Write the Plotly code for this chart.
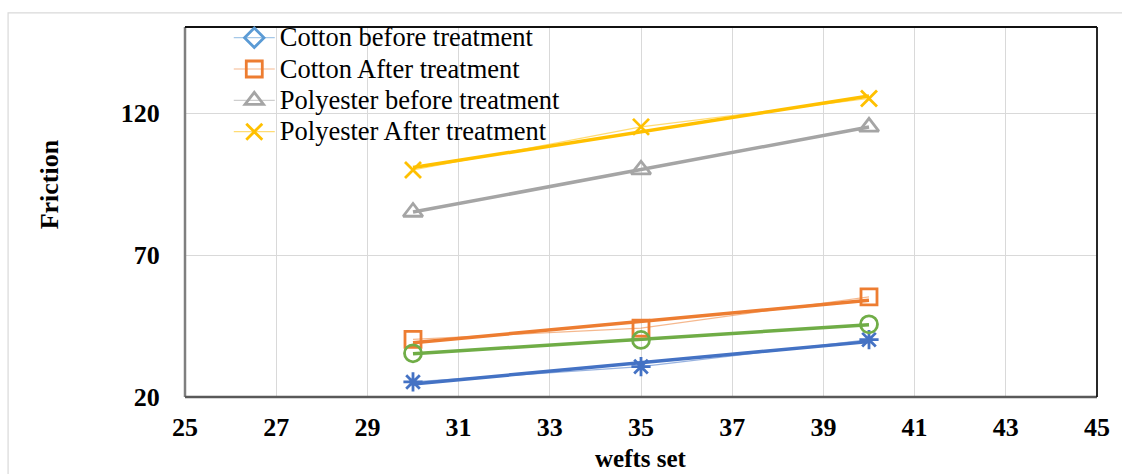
import numpy as np
import plotly.graph_objects as go

# Friction measured at each wefts set
wefts = [30, 35, 40]
cotton_before = []                     # no values recorded
cotton_after = [40.3, 44.3, 55.3]
polyester_before = [85.2, 100.1, 115.2]
polyester_after = [100.0, 115.2, 125.2]
series5 = [25.3, 30.7, 40.2]
series6 = [35.4, 40.1, 45.6]

x_ticks = list(range(25, 46, 2))
y_ticks = [20, 70, 120]

SERIF = "Liberation Serif, Times New Roman, serif"

series = [
    # name, values, colour, faded line colour, marker symbol, size, in legend
    ("Cotton before treatment", cotton_before, "#5B9BD5", "rgba(91,155,213,0.55)", "diamond-open", 15, True),
    ("Cotton After treatment", cotton_after, "#ED7D31", "rgba(237,125,49,0.55)", "square-open", 16, True),
    ("Polyester before treatment", polyester_before, "#A5A5A5", "rgba(165,165,165,0.55)", "triangle-up-open", 17, True),
    ("Polyester After treatment", polyester_after, "#FFC000", "rgba(255,192,0,0.55)", "x-thin-open", 16, True),
    ("Series5", series5, "#4472C4", "rgba(68,114,196,0.55)", "asterisk-open", 16, False),
    ("Series6", series6, "#70AD47", "rgba(112,173,71,0.55)", "circle-open", 17, False),
]

fig = go.Figure()

# linear trend lines (drawn underneath the markers)
for name, vals, col, faded, sym, size, leg in series:
    if len(vals) < 2:
        continue
    slope, icpt = np.polyfit(wefts, vals, 1)
    xs = [min(wefts), max(wefts)]
    fig.add_trace(go.Scatter(
        x=xs, y=[slope * v + icpt for v in xs], mode="lines",
        line=dict(color=col, width=3.5), showlegend=False, hoverinfo="skip",
    ))

# measured series: thin line with open markers
for name, vals, col, faded, sym, size, leg in series:
    xs = wefts[:len(vals)] if vals else [None]
    ys = vals if vals else [None]
    fig.add_trace(go.Scatter(
        x=xs, y=ys, name=f'<span style="font-size:26.5px">{name}</span>',
        mode="lines+markers", showlegend=leg,
        line=dict(color=faded, width=1.2),
        marker=dict(symbol=sym, size=size, color=col, line=dict(color=col, width=2.8)),
    ))

# plot frame: grey on the left/bottom, black on the top/right
frame = [
    (0, 0, 0, 1, "#7F7F7F", 2.5),
    (0, 0, 1, 0, "#595959", 2.5),
    (0, 1, 1, 1, "#111111", 1.8),
    (1, 0, 1, 1, "#111111", 1.8),
]
shapes = [dict(type="rect", xref="paper", yref="paper", x0=-0.194, y0=-0.4, x1=1.1, y1=1.038,
               line=dict(color="#D9D9D9", width=1.2), layer="below")]
for x0, y0, x1, y1, c, w in frame:
    shapes.append(dict(type="line", xref="paper", yref="paper", x0=x0, y0=y0, x1=x1, y1=y1,
                       line=dict(color=c, width=w), layer="above"))

fig.update_layout(
    width=1122, height=474,
    margin=dict(l=185, r=21, t=27, b=77),
    paper_bgcolor="white", plot_bgcolor="white",
    font=dict(family=SERIF, color="black"),
    shapes=shapes,
    showlegend=True,
    legend=dict(x=0.048, y=1.027, xanchor="left", yanchor="top",
                bgcolor="rgba(0,0,0,0)", font=dict(size=21.8, family=SERIF),
                itemwidth=41, tracegroupgap=0),
    annotations=[
        dict(text="<b>Friction</b>", xref="paper", yref="paper", x=-0.149, y=0.575,
             xanchor="center", yanchor="middle",
             textangle=-90, showarrow=False, font=dict(size=26, family=SERIF)),
        dict(text="<b>wefts set</b>", xref="paper", yref="paper", x=0.5, y=-0.165,
             xanchor="center", yanchor="middle",
             showarrow=False, font=dict(size=25, family=SERIF)),
    ],
)
fig.update_xaxes(
    range=[25, 45], tickvals=x_ticks, ticktext=[f"<b>{v}</b>" for v in x_ticks],
    showgrid=True, gridcolor="#D9D9D9", gridwidth=1, zeroline=False, showline=False,
    ticks="outside", ticklen=7, tickcolor="rgba(0,0,0,0)",
    tickfont=dict(size=26, family=SERIF),
)
fig.update_yaxes(
    range=[20, 150.4], tickvals=y_ticks, ticktext=[f"<b>{v}</b>" for v in y_ticks],
    showgrid=True, gridcolor="#D9D9D9", gridwidth=1, zeroline=False, showline=False,
    ticks="outside", ticklen=19, tickcolor="rgba(0,0,0,0)",
    tickfont=dict(size=26, family=SERIF),
)

fig.write_html("out.html")
